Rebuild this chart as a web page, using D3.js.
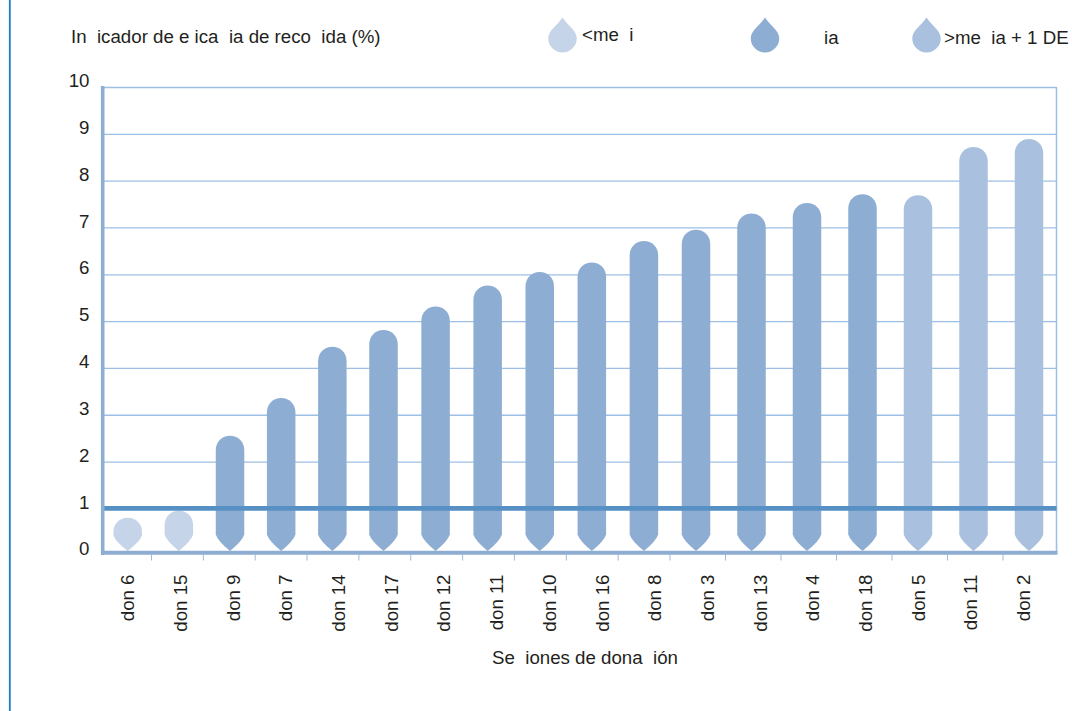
<!DOCTYPE html>
<html lang="es">
<head>
<meta charset="utf-8">
<title>Indicador de eficacia de recogida</title>
<script src="https://cdnjs.cloudflare.com/ajax/libs/d3/7.8.5/d3.min.js"></script>
<style>
  html, body { margin: 0; padding: 0; background: #fff; }
  svg { display: block; }
  text { font-family: "Liberation Sans", Arial, sans-serif; fill: #231f20; white-space: pre; }
</style>
</head>
<body>
<script>
// Donation sessions, ordered by collection efficacy
const sessions = ["don 6","don 15","don 9","don 7","don 14","don 17","don 12","don 11","don 10",
                  "don 16","don 8","don 3","don 13","don 4","don 18","don 5","don 11","don 2"];
const efficacy = [0.80,0.95,2.55,3.36,4.45,4.81,5.31,5.76,6.05,6.25,6.71,6.95,7.30,7.52,7.71,7.69,8.72,8.89];
const groups   = ["low","low","mid","mid","mid","mid","mid","mid","mid",
                  "mid","mid","mid","mid","mid","mid","high","high","high"];
const yTicks = [0,1,2,3,4,5,6,7,8,9,10];
const referenceLevel = 1;

const yTitle = "In  icador de e ica  ia de reco  ida (%)";
const xTitle = "Se  iones de dona  ión";
const legendGroups = ["low","mid","high"];
const legendLabels = ["<me  i","ia",">me  ia + 1 DE"];

const colors = { low: "#c5d4e8", mid: "#8eadd3", high: "#a9c0de" };
const gridColor = "#9dbfe6", axisColor = "#8eadd3", refColor = "#5690c4";

const width = 1072, height = 711;
const left = 103, right = 1056.5, barWidth = 28.5;
const fontSize = "18.7px";

const svg = d3.select("body").append("svg").attr("width", width).attr("height", height);

// Scales: the plotted columns sit slightly unevenly relative to their labels
const y = d3.scaleLinear().domain([0, 10]).range([555.2, 87]);
const xBar = d3.scaleLinear().domain([0, 5, 11, 17]).range([127.7, 383.5, 696, 1029]);
const xTickMark = d3.scaleLinear().domain([1, 11, 17]).range([151.5, 670, 1003]);
const xLabel = d3.scalePoint().domain(d3.range(sessions.length)).range([127.7, 1023.7]);

// Page rule on the left edge
svg.append("line").attr("x1", 9.8).attr("x2", 9.8).attr("y1", 0).attr("y2", height)
   .attr("stroke", "#1a7cc1").attr("stroke-width", 1.8);

// Y axis with full-width gridlines
const yAxis = d3.axisLeft(y).tickValues(yTicks).tickSize(right - left).tickPadding(0).tickFormat(d3.format("d"));
const gy = svg.append("g").attr("transform", `translate(${right},0)`).call(yAxis);
gy.select(".domain").remove();
gy.selectAll(".tick line").attr("stroke", gridColor).attr("stroke-width", 1.3)
  .attr("display", d => d === 0 ? "none" : null);
gy.selectAll(".tick text")
  .attr("x", 89.5 - right).attr("dy", "-0.02em")
  .attr("text-anchor", "end").style("font-size", fontSize).style("font-family", '"Liberation Sans", Arial, sans-serif')
  .attr("fill", "#231f20");

// Plot frame: right side, heavy left side
svg.append("line").attr("x1", right).attr("x2", right).attr("y1", y(10)).attr("y2", 552)
   .attr("stroke", gridColor).attr("stroke-width", 1.5);

// Column: rounded cap on top, pointed foot at the bottom
function columnPath(cx, top, w, tipY) {
  const r = w / 2;
  const cap = Math.min(r, (tipY - top) * 0.42);
  const shoulder = tipY - Math.min(16.5, (tipY - top) * 0.47);
  const p = d3.path();
  p.moveTo(cx - r, shoulder);
  p.lineTo(cx - r, top + cap);
  p.bezierCurveTo(cx - r, top + cap * 0.42, cx - r * 0.55, top, cx, top);
  p.bezierCurveTo(cx + r * 0.55, top, cx + r, top + cap * 0.42, cx + r, top + cap);
  p.lineTo(cx + r, shoulder);
  p.quadraticCurveTo(cx + r * 0.86, shoulder + 6.5, cx, tipY);
  p.quadraticCurveTo(cx - r * 0.86, shoulder + 6.5, cx - r, shoulder);
  p.closePath();
  return p.toString();
}

svg.append("g").selectAll("path").data(efficacy).join("path")
   .attr("d", (d, i) => columnPath(xBar(i), y(d), barWidth, 551))
   .attr("fill", (d, i) => colors[groups[i]]);

// Reference level across the plot
svg.append("line").attr("x1", left - 1).attr("x2", right)
   .attr("y1", y(referenceLevel)).attr("y2", y(referenceLevel))
   .attr("stroke", refColor).attr("stroke-width", 4.6);

// Heavy axis lines
svg.append("line").attr("x1", 102.7).attr("x2", 102.7).attr("y1", y(10) - 1).attr("y2", 555)
   .attr("stroke", axisColor).attr("stroke-width", 3.6);
svg.append("line").attr("x1", 101).attr("x2", right + 1).attr("y1", 552.7).attr("y2", 552.7)
   .attr("stroke", axisColor).attr("stroke-width", 4);

// Separators under the baseline
svg.append("g").selectAll("line").data(d3.range(1, sessions.length)).join("line")
   .attr("x1", d => xTickMark(d)).attr("x2", d => xTickMark(d))
   .attr("y1", 554).attr("y2", 560.5)
   .attr("stroke", "#9dbbdd").attr("stroke-width", 1);

// Session labels, rotated, reading bottom to top
svg.append("g").selectAll("text").data(sessions).join("text")
   .attr("transform", (d, i) => `translate(${xLabel(i) + 6.5},574.5) rotate(-90)`)
   .attr("text-anchor", "end")
   .style("font-size", fontSize)
   .text(d => d);

// Axis titles
svg.append("text").attr("x", 71).attr("y", 42.5).style("font-size", fontSize).text(yTitle);
svg.append("text").attr("x", 492).attr("y", 664).style("font-size", fontSize).text(xTitle);

// Legend: droplet symbols
function dropPath(cx, top, bottom, w) {
  const r = w / 2, cy = bottom - r;
  const p = d3.path();
  p.moveTo(cx, top);
  p.bezierCurveTo(cx + r * 0.35, top + 8, cx + r, cy - r * 0.55, cx + r, cy);
  p.arc(cx, cy, r, 0, Math.PI);
  p.bezierCurveTo(cx - r, cy - r * 0.55, cx - r * 0.35, top + 8, cx, top);
  p.closePath();
  return p.toString();
}
const legendX = d3.scaleOrdinal().domain(legendGroups).range([562.5, 765, 926.5]);
const legendTextX = d3.scaleOrdinal().domain(legendGroups).range([582, 824, 944]);
const legendTextY = d3.scaleOrdinal().domain(legendGroups).range([41, 43.5, 43.5]);

svg.append("g").selectAll("path").data(legendGroups).join("path")
   .attr("d", g => dropPath(legendX(g), 17.5, 52.5, 28.5))
   .attr("fill", g => colors[g]);
svg.append("g").selectAll("text").data(legendGroups).join("text")
   .attr("x", g => legendTextX(g)).attr("y", g => legendTextY(g))
   .style("font-size", fontSize)
   .text((g, i) => legendLabels[i]);
</script>
</body>
</html>
